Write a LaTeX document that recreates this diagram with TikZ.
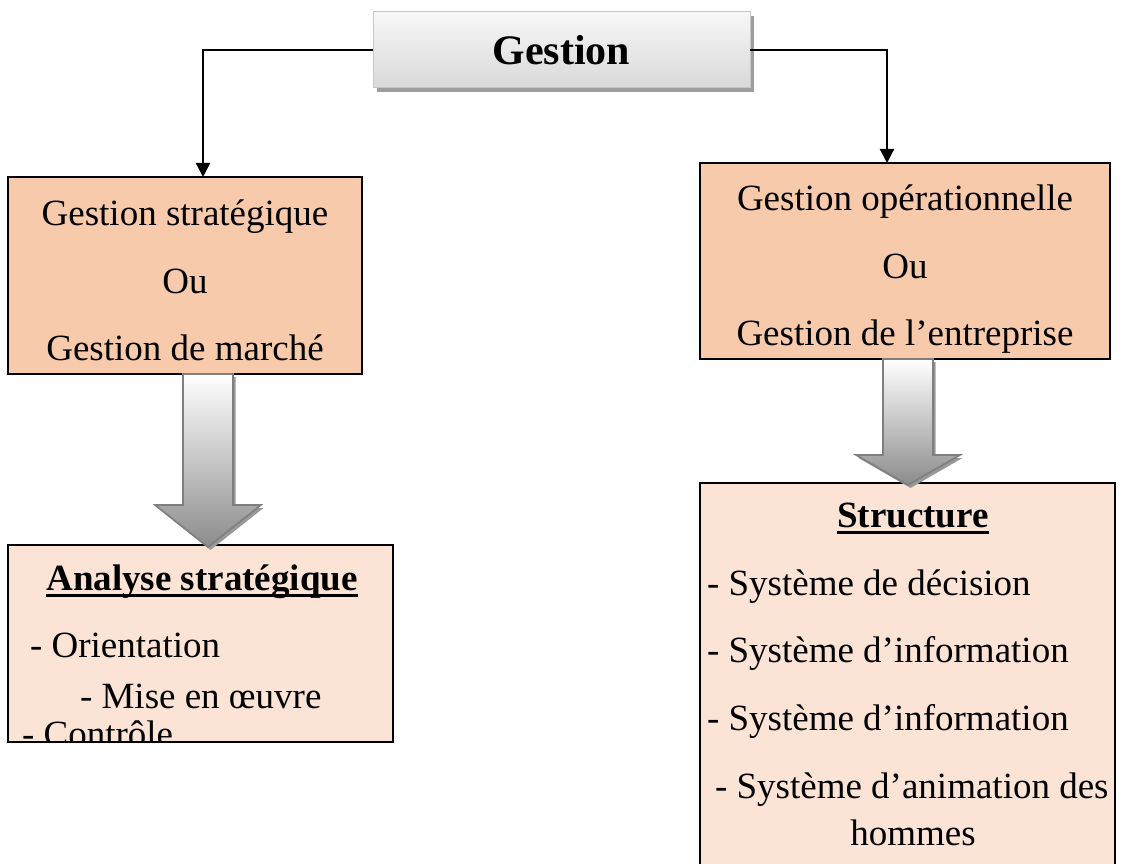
\documentclass[tikz,border=0pt]{standalone}
\usepackage{fontspec}
\setmainfont{Liberation Serif}
\usetikzlibrary{arrows.meta,calc,shadows}

\definecolor{peachdark}{HTML}{F7CAAC}
\definecolor{peachlight}{HTML}{FBE4D5}
\definecolor{arrowedge}{HTML}{7F7F7F}

\tikzset{
  every node/.style={inner sep=0pt, outer sep=0pt},
  txt/.style={font=\fontsize{37}{43}\selectfont},
  headtxt/.style={font=\fontsize{37}{43}\selectfont\bfseries},
  gestbox/.style={draw=black!22, line width=1pt, top color=black!3, bottom color=black!15,
    drop shadow={shadow xshift=4pt, shadow yshift=-4pt, fill=black!38, opacity=1},
    font=\fontsize{42}{50}\selectfont\bfseries},
  upperbox/.style={draw=black, line width=1.6pt, fill=peachdark, align=center,
    font=\fontsize{37}{67.5}\selectfont},
  lowerbox/.style={draw=black, line width=1.6pt, fill=peachlight},
  conn/.style={line width=2.2pt, -{Triangle[length=14pt,width=14pt]}},
  ul/.style={line width=2.6pt},
}

% downward block arrow: centre x, shaft half width, head half width, top y, neck y, tip y
\newcommand\downblock[6]{%
  \fill[black!40, shift={(2.5,3)}] (#1-#2,#4) -- (#1+#2,#4) -- (#1+#2,#5) -- (#1+#3,#5)
    -- (#1,#6) -- (#1-#3,#5) -- (#1-#2,#5) -- cycle;
  \draw[arrowedge, line width=1.6pt, line join=miter, top color=white, bottom color=black!45]
    (#1-#2,#4) -- (#1+#2,#4) -- (#1+#2,#5) -- (#1+#3,#5)
    -- (#1,#6) -- (#1-#3,#5) -- (#1-#2,#5) -- cycle;
}

\begin{document}
\begin{tikzpicture}[x=1pt, y=-1pt]
\useasboundingbox (0,0) rectangle (1130,864);
\clip (0,0) rectangle (1130,864);

% top node
\node[gestbox, minimum width=377pt, minimum height=76pt] (gestion) at (561.5,50) {Gestion};

% the two branches (struts at the first line set the vertical place of the text)
\node[upperbox, minimum width=354pt, minimum height=197pt] (strat) at (185,275.5)
  {\rule{0pt}{36pt}Gestion stratégique\\Ou\\Gestion de marché};
\node[upperbox, minimum width=410pt, minimum height=196pt] (oper) at (905,261)
  {\rule{0pt}{42pt}Gestion opérationnelle\\Ou\\Gestion de l’entreprise};

\draw[conn] (gestion.west) -| ([xshift=18pt]strat.north);
\draw[conn] (gestion.east) -| ([xshift=-18pt]oper.north);

% lower boxes
\node[lowerbox, minimum width=385pt, minimum height=197pt] (analyse) at (200.5,643.5) {};
\node[lowerbox, minimum width=415pt, minimum height=397pt] (structure) at (907.5,681.5) {};

% block arrows between the levels
\downblock{208}{25}{53}{374}{505}{547}
\downblock{908}{25}{52}{359}{455}{485}

% contents of the left lower box
\node[headtxt, anchor=base] (tAnalyse) at (202,590) {Analyse stratégique};
\draw[ul] ($(tAnalyse.base west)+(0,5.5)$) -- ($(tAnalyse.base east)+(0,5.5)$);
\node[txt, anchor=base west] (a1) at (30,657) {- Orientation};
\node[txt, anchor=base west] (a2) at (80,708) {- Mise en œuvre};
\begin{scope}
  \clip (analyse.north west) rectangle ([yshift=0.8pt]analyse.south east);
  \node[txt, anchor=base west] (a3) at (22,746) {- Contrôle};
\end{scope}

% contents of the right lower box
\node[headtxt, anchor=base] (tStructure) at (913,527) {Structure};
\draw[ul] ($(tStructure.base west)+(0,5.5)$) -- ($(tStructure.base east)+(0,5.5)$);
\node[txt, anchor=base west] (s1) at (707,595) {- Système de décision};
\node[txt, anchor=base west] (s2) at (707,662) {- Système d’information};
\node[txt, anchor=base west] (s3) at (707,730) {- Système d’information};
\node[txt, anchor=base west] (s4) at (715,798) {- Système d’animation des};
\node[txt, anchor=base] (s5) at (913,845) {hommes};
\end{tikzpicture}
\end{document}
